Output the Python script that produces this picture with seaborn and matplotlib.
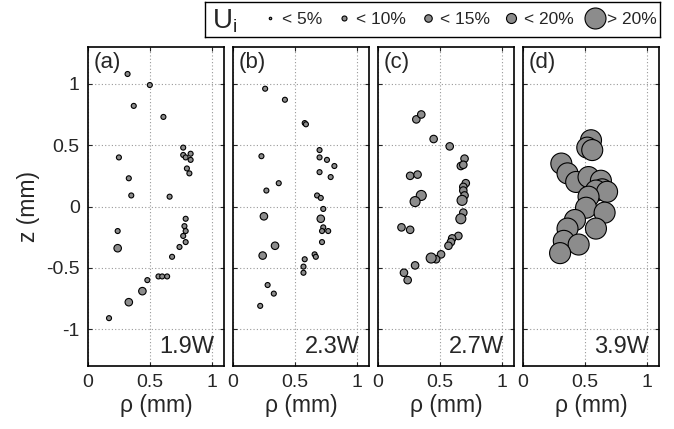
import numpy as np
import pandas as pd
import matplotlib
matplotlib.use("Agg")
import matplotlib.pyplot as plt
from matplotlib.lines import Line2D
import seaborn as sns

# size classes: 1 (<5%), 2 (<10%), 3 (<15%), 4 (<20%), 5 (>20%)
CLASS_LABELS = ["< 5%", "< 10%", "< 15%", "< 20%", "> 20%"]
POWERS = ["1.9W", "2.3W", "2.7W", "3.9W"]
PANEL_TAGS = ["(a)", "(b)", "(c)", "(d)"]

rho_a = [0.32, 0.50, 0.37, 0.61, 0.77, 0.77, 0.79, 0.83, 0.83, 0.80, 0.82, 0.25, 0.33, 0.35, 0.66, 0.79,
         0.78, 0.79, 0.77, 0.79, 0.74, 0.24, 0.24, 0.68, 0.48, 0.57, 0.60, 0.64, 0.44, 0.33, 0.17]
z_a = [1.08, 0.99, 0.82, 0.73, 0.48, 0.42, 0.40, 0.43, 0.38, 0.31, 0.27, 0.40, 0.23, 0.09, 0.08, -0.10,
       -0.16, -0.20, -0.24, -0.29, -0.33, -0.20, -0.34, -0.41, -0.60, -0.57, -0.57, -0.57, -0.69, -0.78, -0.91]
cls_a = [2, 2, 2, 2, 2, 2, 2, 2, 2, 2, 2, 2, 2, 2, 2, 2,
         2, 2, 2, 2, 2, 2, 3, 2, 2, 2, 2, 2, 3, 3, 2]

rho_b = [0.26, 0.42, 0.58, 0.59, 0.70, 0.70, 0.76, 0.82, 0.70, 0.79, 0.23, 0.37, 0.27, 0.68, 0.71, 0.73,
         0.25, 0.71, 0.73, 0.72, 0.77, 0.72, 0.34, 0.24, 0.66, 0.67, 0.58, 0.57, 0.57, 0.28, 0.33, 0.22]
z_b = [0.96, 0.87, 0.68, 0.67, 0.46, 0.40, 0.38, 0.33, 0.28, 0.24, 0.41, 0.19, 0.13, 0.09, 0.07, -0.02,
       -0.08, -0.10, -0.17, -0.20, -0.20, -0.29, -0.32, -0.40, -0.39, -0.41, -0.43, -0.49, -0.54, -0.64, -0.71, -0.81]
cls_b = [2, 2, 2, 2, 2, 2, 2, 2, 2, 2, 2, 2, 2, 2, 2, 2,
         3, 3, 2, 2, 2, 2, 3, 3, 2, 2, 2, 2, 2, 2, 2, 2]

rho_c = [0.31, 0.35, 0.45, 0.58, 0.70, 0.67, 0.69, 0.26, 0.32, 0.71, 0.69, 0.69, 0.70, 0.35, 0.30,
         0.68, 0.69, 0.67, 0.19, 0.26, 0.65, 0.60, 0.59, 0.57, 0.51, 0.47, 0.43, 0.30, 0.21, 0.24]
z_c = [0.71, 0.75, 0.55, 0.49, 0.39, 0.33, 0.34, 0.25, 0.26, 0.19, 0.16, 0.13, 0.09, 0.09, 0.04,
       0.05, -0.05, -0.10, -0.17, -0.19, -0.24, -0.26, -0.29, -0.32, -0.39, -0.43, -0.42, -0.48, -0.54, -0.60]
cls_c = [3, 3, 3, 3, 3, 3, 3, 3, 3, 3, 3, 3, 3, 4, 4,
         4, 3, 4, 3, 3, 3, 3, 3, 3, 3, 3, 4, 3, 3, 3]

rho_d = [0.55, 0.52, 0.56, 0.31, 0.36, 0.43, 0.53, 0.63, 0.64, 0.59, 0.68, 0.53, 0.51, 0.66, 0.42,
         0.36, 0.59, 0.33, 0.45, 0.30]
z_d = [0.54, 0.48, 0.46, 0.35, 0.27, 0.20, 0.24, 0.21, 0.14, 0.13, 0.12, 0.08, -0.01, -0.05, -0.11,
       -0.18, -0.18, -0.28, -0.31, -0.38]
cls_d = [5] * 20

# marker diameters in pixels for each class
DIAM_PX = {1: 2.5, 2: 5, 3: 7.5, 4: 10, 5: 21}
GRAY = "#8c8c8c"

sns.set_style("ticks")
plt.rcParams["font.family"] = ["Liberation Sans", "DejaVu Sans"]
plt.rcParams["axes.unicode_minus"] = False

fig = plt.figure(figsize=(6.74, 4.29), dpi=100)
W, H = 674, 429
px2pt = 72 / 100
sizes = {k: (v * px2pt) ** 2 for k, v in DIAM_PX.items()}

panels = [(rho_a, z_a, cls_a), (rho_b, z_b, cls_b), (rho_c, z_c, cls_c), (rho_d, z_d, cls_d)]
lefts = [88, 233, 378, 523]
for i, (rho, z, cls) in enumerate(panels):
    ax = fig.add_axes([lefts[i] / W, 1 - 366 / H, 136 / W, 319 / H])
    df = pd.DataFrame({"rho": rho, "z": z, "cls": cls})
    sns.scatterplot(data=df, x="rho", y="z", size="cls", sizes=sizes, color=GRAY,
                    edgecolor="black", linewidth=0.8, legend=False, ax=ax, zorder=3)
    ax.set_xlim(0, 1.1)
    ax.set_ylim(-1.3, 1.3)
    ax.set_xticks([0, 0.5, 1])
    ax.set_xticklabels(["0", "0.5", "1"])
    ax.set_yticks([-1, -0.5, 0, 0.5, 1])
    ax.grid(True, linestyle=(0, (1, 2)), color="0.6", linewidth=0.8)
    ax.tick_params(direction="in", top=True, right=True, length=3, labelsize=14, pad=6)
    for s in ax.spines.values():
        s.set_linewidth(1.2)
        s.set_color("black")
    ax.set_xlabel("\u03c1 (mm)", fontsize=16.5, labelpad=2)
    if i == 0:
        ax.set_yticklabels(["-1", "-0.5", "0", "0.5", "1"])
        ax.set_ylabel("z (mm)", fontsize=16.5, labelpad=4)
    else:
        ax.set_yticklabels([])
        ax.set_ylabel("")
    ax.text(0.04, 0.985, PANEL_TAGS[i], transform=ax.transAxes, fontsize=16, va="top", ha="left")
    ax.text(0.93, 0.025, POWERS[i], transform=ax.transAxes, fontsize=17, va="bottom", ha="right")

# legend box
ax_leg = fig.add_axes([205 / W, 1 - 37 / H, 455 / W, 35 / H])
ax_leg.set_xticks([])
ax_leg.set_yticks([])
for s in ax_leg.spines.values():
    s.set_linewidth(1.0)
    s.set_color("black")
ax_leg.text(0.015, 0.45, "U$_\\mathregular{i}$", transform=ax_leg.transAxes,
            fontsize=20, va="center", ha="left")
handles = [Line2D([], [], marker="o", ls="", ms=DIAM_PX[k] * px2pt, mfc=GRAY,
                  mec="black", mew=0.8) for k in range(1, 6)]
ax_leg.legend(handles, CLASS_LABELS, ncol=5, loc="center left", bbox_to_anchor=(0.125, 0.5),
              frameon=False, fontsize=12.5, handlelength=0.9, handletextpad=0.25,
              columnspacing=0.8, borderpad=0, borderaxespad=0)

fig.savefig("out.png", dpi=100)
